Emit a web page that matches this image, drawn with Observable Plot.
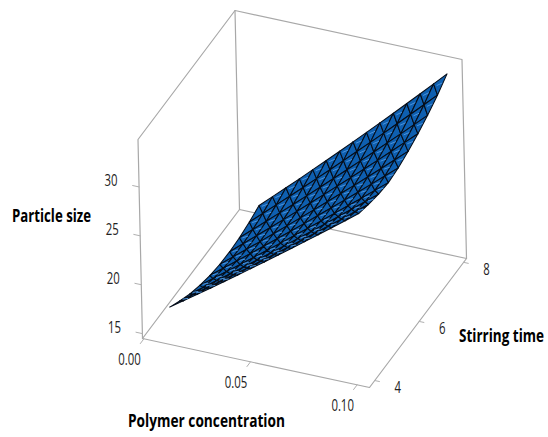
<!DOCTYPE html>
<html><head><meta charset="utf-8">
<script src="https://cdn.jsdelivr.net/npm/d3@7"></script>
<script src="https://cdn.jsdelivr.net/npm/@observablehq/plot@0.6"></script>
<style>html,body{margin:0;padding:0;background:#fff}svg{display:block}</style>
</head><body><div id="chart"></div>
<script>
// axis extents of the box
const polymerExtent = [-0.00066, 0.1058];
const stirringExtent = [3.764, 8.13];
const sizeExtent = [14.5, 34.85];
const polymerTicks = [0, 0.05, 0.10];
const stirringTicks = [4, 6, 8];
const sizeTicks = [15, 20, 25, 30];

// surface grid
const polymer = [0.01,0.01643,0.02286,0.02929,0.03571,0.04214,0.04857,0.055,0.06143,0.06786,0.07429,0.08071,0.08714,0.09357,0.1];
const stirring = [4,4.44,4.89,5.33,5.78,6.22,6.67,7.11,7.56,8];
const sizeS1 = [17.5,18.44,19.39,20.34,21.30,22.27,23.25,24.23,25.22,26.21,27.22,28.23,29.24,30.27,31.3];
const sizeS2 = [16.8,17.76,18.73,19.70,20.68,21.67,22.67,23.67,24.68,25.70,26.73,27.76,28.80,29.85,30.9];
const sizeS3 = [16.15,17.13,18.13,19.13,20.13,21.14,22.17,23.19,24.23,25.27,26.32,27.38,28.45,29.52,30.6];
const sizeS4 = [15.7,16.7,17.72,18.74,19.76,20.8,21.84,22.89,23.95,25.01,26.09,27.17,28.25,29.35,30.45];
const sizeS5 = [15.35,16.39,17.44,18.49,19.55,20.62,21.7,22.78,23.88,24.98,26.09,27.2,28.33,29.46,30.6];
const sizeS6 = [15.15,16.23,17.31,18.4,19.5,20.61,21.73,22.85,23.99,25.13,26.27,27.43,28.6,29.77,30.95];
const sizeS7 = [15.1,16.21,17.33,18.46,19.59,20.73,21.89,23.05,24.22,25.39,26.58,27.77,28.97,30.18,31.4];
const sizeS8 = [15.2,16.34,17.49,18.65,19.81,20.99,22.17,23.37,24.57,25.78,26.99,28.22,29.45,30.7,31.95];
const sizeS9 = [15.45,16.62,17.8,18.99,20.19,21.39,22.61,23.84,25.07,26.31,27.56,28.82,30.09,31.37,32.65];
const sizeS10 = [15.8,17.01,18.22,19.44,20.68,21.92,23.17,24.43,25.7,26.98,28.26,29.56,30.86,32.18,33.5];
const sizeRows = [sizeS1,sizeS2,sizeS3,sizeS4,sizeS5,sizeS6,sizeS7,sizeS8,sizeS9,sizeS10];

// view: where the box's unit vectors land
const view = {ox:142, oy:338, px:[227,49], sx:[97,-129], zx:[-4.5,-199]};
const tp = d3.scaleLinear(polymerExtent,[0,1]);
const ts = d3.scaleLinear(stirringExtent,[0,1]);
const tz = d3.scaleLinear(sizeExtent,[0,1]);
function project(p,s,z){
  const a=tp(p), b=ts(s), c=tz(z);
  return {x:view.ox+a*view.px[0]+b*view.sx[0]+c*view.zx[0],
          y:view.oy+a*view.px[1]+b*view.sx[1]+c*view.zx[1]};
}
const [p0,p1]=polymerExtent,[s0,s1]=stirringExtent,[z0,z1]=sizeExtent;
const P=(id,p,s,z)=>({id,...project(p,s,z)});
const chain=(id,pts)=>pts.map(q=>P(id,...q));

const box=[
  ...chain("floor",[[p0,s0,z0],[p1,s0,z0],[p1,s1,z0],[p0,s1,z0],[p0,s0,z0]]),
  ...chain("walls",[[p0,s0,z0],[p0,s0,z1],[p0,s1,z1],[p1,s1,z1],[p1,s1,z0]]),
  ...chain("back",[[p0,s1,z0],[p0,s1,z1]])
];
const tickLines=[];
const labels=[];
polymerTicks.forEach(v=>{
  const a=project(v,s0,z0);
  tickLines.push({id:"p"+v,...a},{id:"p"+v,...project(v,s0-0.16,z0)});
  labels.push({x:a.x-14.5,y:a.y+20.5,t:v.toFixed(2)});
});
stirringTicks.forEach(v=>{
  const a=project(p1,v,z0);
  tickLines.push({id:"s"+v,...a},{id:"s"+v,...project(p1+0.0022,v,z0)});
  labels.push({x:a.x+23,y:a.y+7,t:String(v)});
});
sizeTicks.forEach(v=>{
  const a=project(p0,s0,v);
  tickLines.push({id:"z"+v,...a},{id:"z"+v,...project(p0-0.003,s0,v)});
  labels.push({x:a.x-28,y:a.y-6,t:String(v)});
});

const vertex=(i,j)=>[polymer[i],stirring[j],sizeRows[j][i]];
const nI=polymer.length, nJ=stirring.length;
const tris=[], glints=[];
let n=0;
for(let j=nJ-2;j>=0;j--) for(let i=0;i<nI-1;i++){
  const a=vertex(i,j), b=vertex(i+1,j), c=vertex(i+1,j+1), d=vertex(i,j+1);
  tris.push(...chain("t"+(n++),[a,b,d,a]));
  tris.push(...chain("t"+(n++),[b,c,d,b]));
  // pale highlight inside the upper facet
  const m=[0,1,2].map(k=>(b[k]+c[k]+d[k])/3);
  const dzdp=(b[2]-a[2])/(b[0]-a[0]);
  const dp=0.0016, ds=0.04;
  glints.push(...chain("g"+n,[[m[0]-dp,m[1]+ds,m[2]-dzdp*dp],[m[0]+dp,m[1]-ds,m[2]+dzdp*dp]]));
}

const titles=[
  {x:51,y:216,t:"Particle size",w:79},
  {x:206,y:421,t:"Polymer concentration",w:157},
  {x:501,y:336,t:"Stirring time",w:85}
];
const font="'Open Sans',sans-serif";
const XY={x:"x",y:"y",z:"id"};
const plot=Plot.plot({
  width:548,height:437,margin:0,
  style:{background:"#fff",overflow:"visible"},
  x:{domain:[0,548],range:[0,548],axis:null},
  y:{domain:[0,437],range:[0,437],axis:null},
  marks:[
    Plot.line(box,{...XY,stroke:"#a8a8a8",strokeWidth:1.2}),
    Plot.line(tickLines,{...XY,stroke:"#b0b0b0",strokeWidth:1}),
    Plot.line(tris,{...XY,fill:"#0e5fb0",stroke:"#060d18",strokeWidth:1.05}),
    Plot.line(glints,{...XY,stroke:"#4b93dc",strokeWidth:1}),
    Plot.text(labels,{x:"x",y:"y",text:"t",fontFamily:font,fontSize:16.5,fill:"#222",className:"ticklab"}),
    Plot.text(titles,{x:"x",y:"y",text:"t",fontFamily:font,fontSize:17.5,fontWeight:"bold",fill:"#000",className:"titlelab"})
  ]
});
document.getElementById("chart").append(plot);
d3.select(plot).selectAll(".ticklab text").each(function(){
  this.setAttribute("textLength",(this.getComputedTextLength()*0.69).toFixed(1));
  this.setAttribute("lengthAdjust","spacingAndGlyphs");
});
d3.select(plot).selectAll(".titlelab text").each(function(_,k){
  this.setAttribute("textLength",titles[k].w);
  this.setAttribute("lengthAdjust","spacingAndGlyphs");
});
</script></body></html>
